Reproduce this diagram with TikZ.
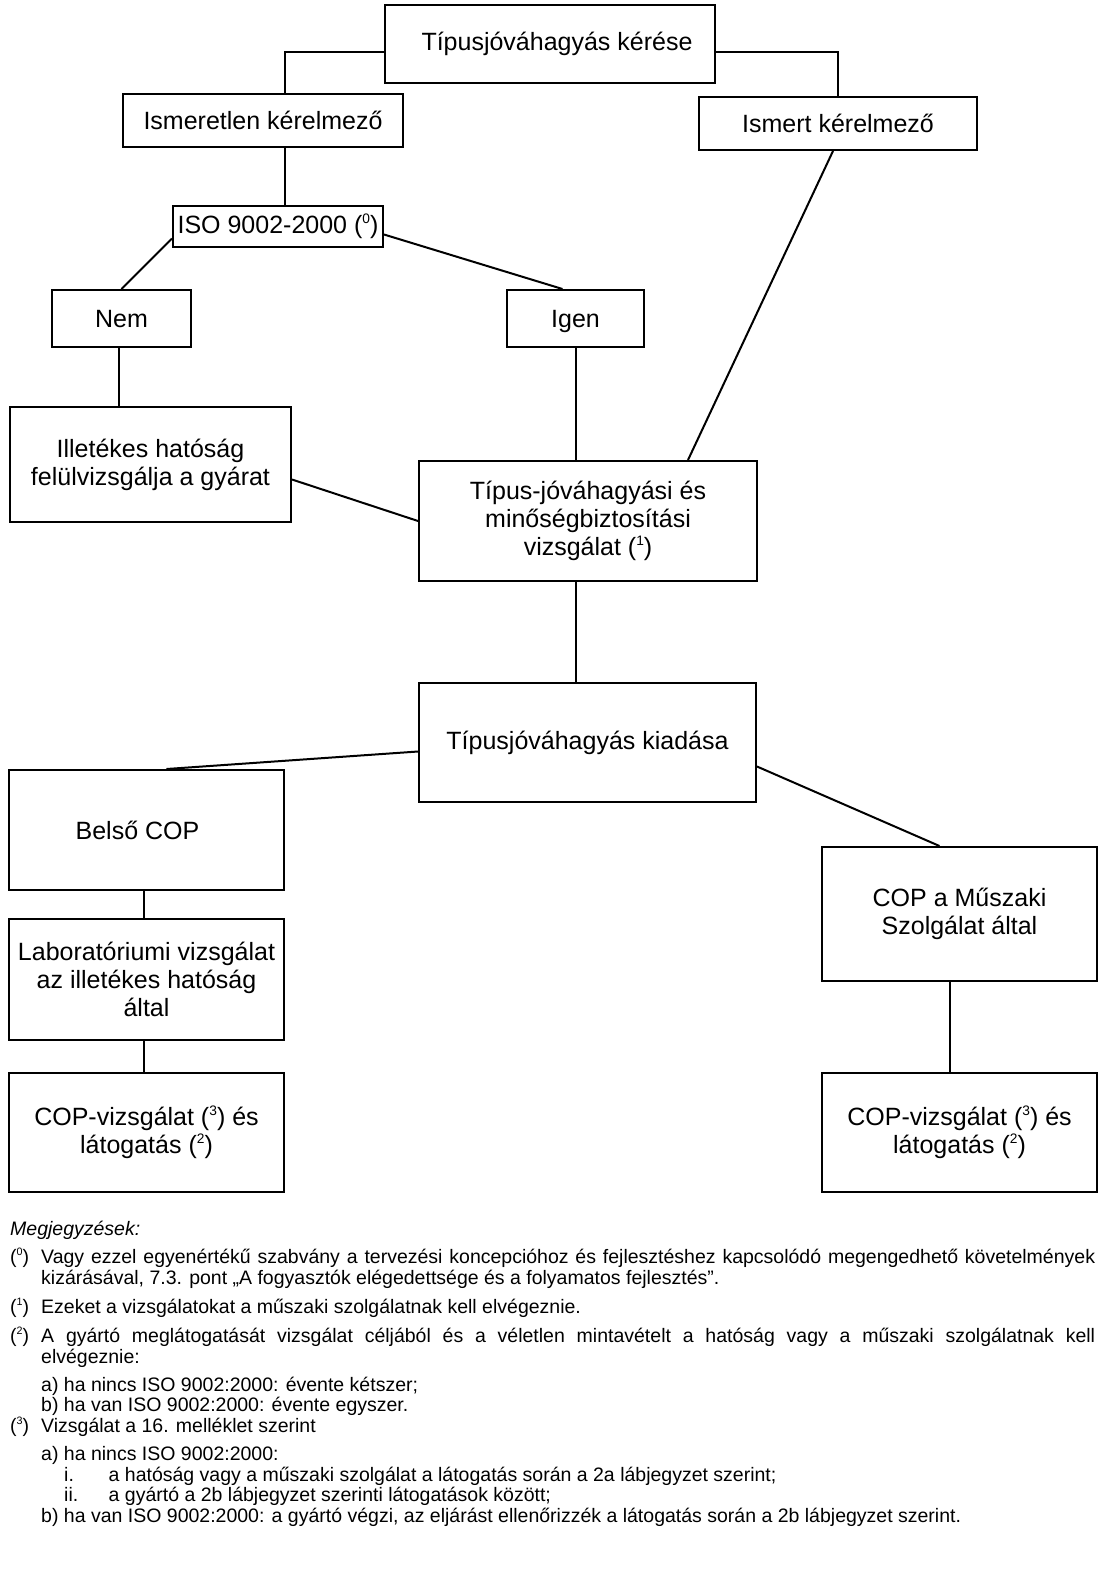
\documentclass[tikz,border=0pt]{standalone}
\usepackage{fontspec}
\setmainfont{Liberation Sans}
\usetikzlibrary{calc}
\newcommand{\fnsup}[1]{\raisebox{0.75ex}{\scalebox{0.55}{#1}}}
\tikzset{
  box/.style={draw, line width=2pt, inner sep=0pt, align=center,
    font=\fontsize{25}{28}\selectfont},
  conn/.style={line width=2pt},
  note/.style={inner sep=0pt, anchor=base west, font=\fontsize{19.5}{21}\selectfont}
}
\begin{document}
\begin{tikzpicture}[x=1pt, y=-1pt]
\fill[white] (0,0) rectangle (1102,1575);
\useasboundingbox (0,0) rectangle (1102,1575);

% boxes
\node[box, minimum width=330pt, minimum height=78pt] (top) at (550,44) {\hspace*{14pt}Típusjóváhagyás kérése};
\node[box, minimum width=280pt, minimum height=53pt] (unk) at (263,120.5) {Ismeretlen kérelmező};
\node[box, minimum width=278pt, minimum height=53pt] (kno) at (838,123.5) {Ismert kérelmező};
\node[box, minimum width=210pt, minimum height=41pt] (iso) at (278,226.5) {ISO 9002-2000 (\fnsup{0})};
\node[box, minimum width=139pt, minimum height=57pt, text depth=0pt] (nem) at (121.5,318.5) {Nem};
\node[box, minimum width=137pt, minimum height=57pt, text depth=0pt] (igen) at (575.5,318.5) {Igen};
\node[box, minimum width=281pt, minimum height=115pt] (ill) at (150.5,464.5) {Illetékes hatóság\\felülvizsgálja a gyárat};
\node[box, minimum width=338pt, minimum height=120pt] (tip) at (588,521) {Típus-jóváhagyási és\\minőségbiztosítási\\vizsgálat (\fnsup{1})};
\node[box, minimum width=337pt, minimum height=119pt] (kiad) at (587.5,742.5) {Típusjóváhagyás kiadása};
\node[box, minimum width=275pt, minimum height=120pt] (bel) at (146.5,830) {Belső COP\hspace*{18pt}};
\node[box, minimum width=275pt, minimum height=134pt] (copm) at (959.5,914) {COP a Műszaki\\Szolgálat által};
\node[box, minimum width=275pt, minimum height=121pt] (lab) at (146.5,979.5) {Laboratóriumi vizsgálat\\az illetékes hatóság\\által};
\node[box, minimum width=275pt, minimum height=119pt] (copl) at (146.5,1132.5) {COP-vizsgálat (\fnsup{3}) és\\látogatás (\fnsup{2})};
\node[box, minimum width=275pt, minimum height=119pt] (copr) at (959.5,1132.5) {COP-vizsgálat (\fnsup{3}) és\\látogatás (\fnsup{2})};

% helper coordinates
\coordinate (tipb) at ($(tip.south)+(-12,0)$);
\coordinate (copmb) at ($(copm.south)+(-9.5,0)$);
\coordinate (unkb) at ($(unk.south)+(22,0)$);
\coordinate (nemb) at ($(nem.south)+(-2.5,0)$);
\coordinate (igenb) at ($(igen.south)+(0.5,0)$);
\coordinate (belb) at ($(bel.south)+(-2.5,0)$);
\coordinate (labb) at ($(lab.south)+(-2.5,0)$);

% connectors
\draw[conn] ($(top.west)+(0,8)$) -| (unkb |- unk.north);
\draw[conn] ($(top.east)+(0,8)$) -| (kno.north);
\draw[conn] (unkb) -- (unkb |- iso.north);
\draw[conn] ($(iso.west)+(0,12)$) -- (nem.north);
\draw[conn] ($(iso.east)+(0,8)$) -- ($(igen.north)+(-13,0)$);
\draw[conn] (nemb) -- (nemb |- ill.north);
\draw[conn] (igenb) -- (igenb |- tip.north);
\draw[conn] ($(kno.south)+(-5,0)$) -- ($(tip.north)+(100,0)$);
\draw[conn] ($(ill.east)+(0,15)$) -- (tip.west);
\draw[conn] (tipb) -- (tipb |- kiad.north);
\draw[conn] ($(kiad.west)+(0,9)$) -- ($(bel.north)+(20,0)$);
\draw[conn] ($(kiad.east)+(0,24)$) -- ($(copm.north)+(-20,0)$);
\draw[conn] (belb) -- (belb |- lab.north);
\draw[conn] (labb) -- (labb |- copl.north);
\draw[conn] (copmb) -- (copmb |- copr.north);

% notes
\node[note] (nh) at (10,1235) {\textit{Megjegyzések:}};
\node[note] (m0) at (10,1263) {(\fnsup{0})};
\node[note] (n0a) at (41,1263) {\makebox[1054pt][s]{Vagy ezzel egyenértékű szabvány a tervezési koncepcióhoz és fejlesztéshez kapcsolódó megengedhető követelmények}};
\node[note] (n0b) at (41,1284) {kizárásával, 7.3. pont „A fogyasztók elégedettsége és a folyamatos fejlesztés”.};
\node[note] (m1) at (10,1313) {(\fnsup{1})};
\node[note] (n1) at (41,1313) {Ezeket a vizsgálatokat a műszaki szolgálatnak kell elvégeznie.};
\node[note] (m2) at (10,1342) {(\fnsup{2})};
\node[note] (n2a) at (41,1342) {\makebox[1054pt][s]{A gyártó meglátogatását vizsgálat céljából és a véletlen mintavételt a hatóság vagy a műszaki szolgálatnak kell}};
\node[note] (n2b) at (41,1363) {elvégeznie:};
\node[note] (n2c) at (41,1391) {a) ha nincs ISO 9002:2000: évente kétszer;};
\node[note] (n2d) at (41,1411) {b) ha van ISO 9002:2000: évente egyszer.};
\node[note] (m3) at (10,1432) {(\fnsup{3})};
\node[note] (n3) at (41,1432) {Vizsgálat a 16. melléklet szerint};
\node[note] (n3a) at (41,1460) {a) ha nincs ISO 9002:2000:};
\node[note] (r1) at (64,1481) {i.};
\node[note] (n3i) at (108.5,1481) {a hatóság vagy a műszaki szolgálat a látogatás során a 2a lábjegyzet szerint;};
\node[note] (r2) at (64,1501) {ii.};
\node[note] (n3ii) at (108.5,1501) {a gyártó a 2b lábjegyzet szerinti látogatások között;};
\node[note] (n3b) at (41,1522) {b) ha van ISO 9002:2000: a gyártó végzi, az eljárást ellenőrizzék a látogatás során a 2b lábjegyzet szerint.};
\end{tikzpicture}
\end{document}
